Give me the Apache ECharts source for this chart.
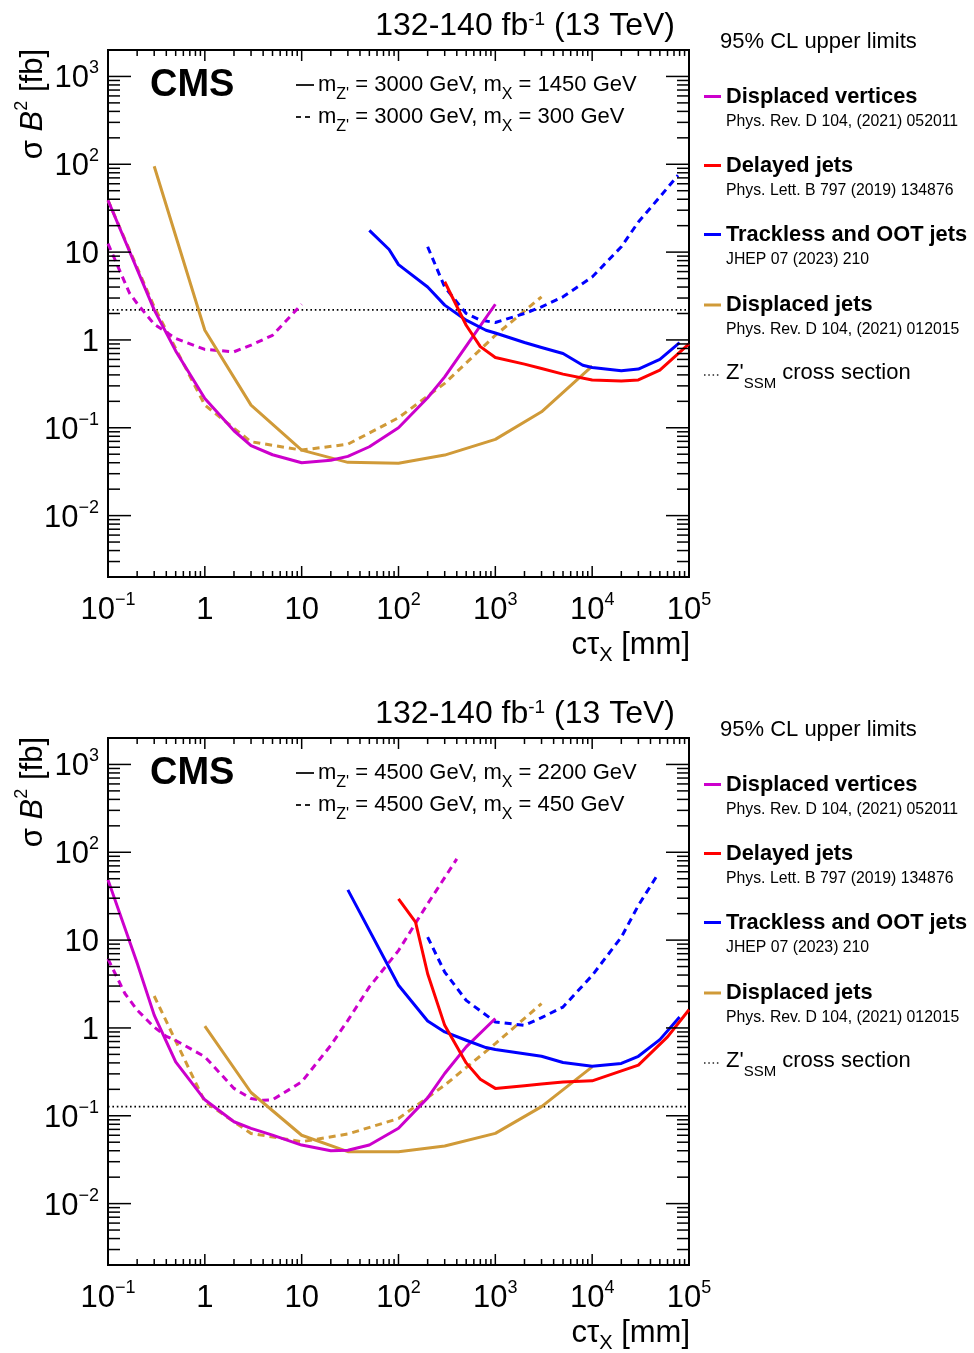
<!DOCTYPE html>
<html><head><meta charset="utf-8">
<script src="https://cdn.jsdelivr.net/npm/echarts@6/dist/echarts.min.js"></script>
<style>html,body{margin:0;padding:0;background:#fff}#c{width:974px;height:1353px}</style>
</head><body><div id="c"></div>
<script>
// ---------- DATA ----------
// Top panel: m_Z' = 3000 GeV ; solid mX = 1450 GeV, dashed mX = 300 GeV
const p1_dvSolidX = [0.1, 0.3, 0.5, 1, 2, 3, 5, 10, 20, 30, 50, 100, 200, 300, 500, 1000];
const p1_dvSolidY = [38.9, 2.2, 0.75, 0.215, 0.0925, 0.0625, 0.0493, 0.0400, 0.0426, 0.0472, 0.0608, 0.100, 0.22, 0.38, 0.85, 2.55];
const p1_dvDashX  = [0.1, 0.167, 0.2, 0.3, 0.5, 1, 2, 3, 5, 10];
const p1_dvDashY  = [12.5, 3.4, 2.6, 1.51, 1.04, 0.78, 0.733, 0.873, 1.13, 2.55];
const p1_deSolidX = [300, 500, 700, 1000, 2000, 3000, 5000, 10000, 20000, 30000, 50000, 100000];
const p1_deSolidY = [4.6, 1.47, 0.84, 0.63, 0.53, 0.473, 0.408, 0.35, 0.34, 0.35, 0.453, 0.90];
const p1_trSolidX = [50, 80, 100, 200, 300, 500, 800, 1000, 2000, 3000, 5000, 8000, 10000, 20000, 30000, 50000, 80000];
const p1_trSolidY = [17.7, 10.7, 7.2, 4.0, 2.49, 1.68, 1.29, 1.2, 0.935, 0.82, 0.70, 0.516, 0.485, 0.446, 0.466, 0.60, 0.93];
const p1_trDashX  = [200, 300, 500, 700, 1000, 2000, 3000, 5000, 10000, 20000, 30000, 50000, 77000];
const p1_trDashY  = [11.5, 4.0, 2.0, 1.68, 1.58, 2.0, 2.38, 3.1, 5.2, 11.5, 22, 42.5, 75];
const p1_djSolidX = [0.3, 1, 3, 10, 30, 100, 300, 1000, 3000, 10000];
const p1_djSolidY = [95, 1.29, 0.181, 0.0557, 0.0404, 0.0395, 0.0489, 0.0738, 0.152, 0.503];
const p1_djDashX  = [0.1, 0.3, 1, 3, 10, 30, 100, 300, 1000, 3000];
const p1_djDashY  = [38.9, 2.38, 0.181, 0.0693, 0.0557, 0.065, 0.13, 0.32, 1.13, 3.1];
const p1_zprime = 2.2;

// Bottom panel: m_Z' = 4500 GeV ; solid mX = 2200 GeV, dashed mX = 450 GeV
const p2_dvSolidX = [0.1, 0.2, 0.3, 0.5, 1, 2, 3, 5, 10, 20, 30, 50, 100, 200, 300, 500, 1000];
const p2_dvSolidY = [48.5, 5.5, 1.4, 0.41, 0.152, 0.0855, 0.0718, 0.0603, 0.0464, 0.040, 0.0405, 0.0464, 0.072, 0.16, 0.303, 0.608, 1.28];
const p2_dvDashX  = [0.1, 0.15, 0.2, 0.3, 0.4, 0.5, 1, 2, 3, 4, 5, 10, 20, 30, 50, 100, 200, 400];
const p2_dvDashY  = [6.1, 2.45, 1.6, 1.02, 0.8, 0.72, 0.47, 0.205, 0.157, 0.15, 0.152, 0.243, 0.635, 1.22, 2.93, 7.6, 25.9, 84];
const p2_deSolidX = [100, 150, 200, 300, 500, 700, 1000, 2000, 3000, 5000, 10000, 30000, 60000, 100000];
const p2_deSolidY = [29.5, 16, 4.14, 1.07, 0.40, 0.26, 0.205, 0.22, 0.23, 0.243, 0.25, 0.377, 0.79, 1.61];
const p2_trSolidX = [30, 100, 200, 300, 500, 800, 1000, 3000, 5000, 10000, 20000, 30000, 50000, 80000];
const p2_trSolidY = [37.3, 3.06, 1.2, 0.90, 0.724, 0.598, 0.567, 0.476, 0.404, 0.366, 0.394, 0.476, 0.736, 1.33];
const p2_trDashX  = [200, 300, 500, 1000, 2000, 3000, 5000, 10000, 20000, 30000, 48000];
const p2_trDashY  = [10.8, 4.33, 2.06, 1.17, 1.07, 1.31, 1.73, 3.96, 10.8, 24.8, 56.8];
const p2_djSolidX = [1, 3, 10, 30, 100, 300, 1000, 3000, 10000];
const p2_djSolidY = [1.05, 0.184, 0.060, 0.039, 0.0389, 0.0452, 0.063, 0.127, 0.36];
const p2_djDashX  = [0.3, 1, 3, 10, 30, 100, 300, 1000, 3000];
const p2_djDashY  = [2.31, 0.144, 0.063, 0.0507, 0.062, 0.093, 0.223, 0.663, 1.89];
const p2_zprime = 0.127;

// Axes / ticks / labels
const xMajorTicks = [0.1, 1, 10, 100, 1000, 10000, 100000];
const xTickLabels = ['10{s|−1}', '1', '10', '10{s|2}', '10{s|3}', '10{s|4}', '10{s|5}'];
const yMajorTicks = [0.01, 0.1, 1, 10, 100, 1000];
const yTickLabels = ['10{s|−2}', '10{s|−1}', '1', '10', '10{s|2}', '10{s|3}'];
const minorMult = [2, 3, 4, 5, 6, 7, 8, 9];
const xRange = [0.1, 100000];
const yRange = [0.002, 2000];

// Texts
const headerText = '132-140 fb{s|-1} (13 TeV)';
const panelMz = ['3000', '4500'];
const panelMxSolid = ['1450', '2200'];
const panelMxDash = ['300', '450'];
const legendTitles = ['Displaced vertices', 'Delayed jets', 'Trackless and OOT jets', 'Displaced jets'];
const legendRefs = ['Phys. Rev. D 104, (2021) 052011', 'Phys. Lett. B 797 (2019) 134876', 'JHEP 07 (2023) 210', 'Phys. Rev. D 104, (2021) 012015'];

// ---------- STYLE ----------
const FONT = '"Liberation Sans", Arial, Helvetica, sans-serif';
const COL = { dv: '#cc00cc', de: '#ff0000', tr: '#0000ff', dj: '#d09a38' };
const legendColors = [COL.dv, COL.de, COL.tr, COL.dj];
const GRID_L = 108, GRID_W = 581, GRID_H = 527;
const PANEL_TOP = [50, 738];
const DY = [0, 688];

function labelFor(v, majors, labels) {
  for (let i = 0; i < majors.length; i++) {
    if (Math.abs(Math.log10(v) - Math.log10(majors[i])) < 1e-6) return labels[i];
  }
  return '';
}

const supRich = { s: { fontSize: 18, lineHeight: 18, padding: [0, 0, 21, 0], verticalAlign: 'bottom', fontFamily: FONT, color: '#000' } };

function pairs(xs, ys) { return xs.map((x, i) => [x, ys[i]]); }
function lineSeries(gi, xs, ys, color, dashed) {
  return {
    type: 'line', xAxisIndex: gi, yAxisIndex: gi, data: pairs(xs, ys),
    showSymbol: false, symbol: 'none', silent: true, animation: false, clip: true, z: 3,
    lineStyle: { color: color, width: 3, type: dashed ? [7, 5] : 'solid', cap: 'butt', join: 'round' }
  };
}
function zLine(gi, z) {
  return {
    type: 'line', xAxisIndex: gi, yAxisIndex: gi, data: [[xRange[0], z], [xRange[1], z]],
    showSymbol: false, symbol: 'none', silent: true, animation: false, z: 2,
    lineStyle: { color: '#000', width: 1.6, type: [1.6, 2.8] }
  };
}
function tickData() {
  const d = [];
  xMajorTicks.forEach(v => d.push([v, 1, 0]));
  yMajorTicks.forEach(v => d.push([1, v, 2]));
  for (let e = -1; e <= 4; e++) minorMult.forEach(m => { const v = m * Math.pow(10, e); if (v > xRange[0] && v < xRange[1]) d.push([v, 1, 1]); });
  for (let e = -3; e <= 3; e++) minorMult.forEach(m => { const v = m * Math.pow(10, e); if (v >= yRange[0] && v <= yRange[1]) d.push([1, v, 3]); });
  return d;
}
function tickSeries(gi) {
  return {
    type: 'custom', xAxisIndex: gi, yAxisIndex: gi, silent: true, animation: false, z: 10, clip: false,
    data: tickData(),
    renderItem: function (params, api) {
      const cs = params.coordSys;
      const k = api.value(2);
      const st = { stroke: '#000', lineWidth: 1.5 };
      if (k < 2) {
        const px = api.coord([api.value(0), 1])[0];
        const L = k === 0 ? 11 : 6;
        const b = cs.y + cs.height, t = cs.y;
        return { type: 'group', children: [
          { type: 'line', shape: { x1: px, y1: b, x2: px, y2: b - L }, style: st },
          { type: 'line', shape: { x1: px, y1: t, x2: px, y2: t + L }, style: st }] };
      } else {
        const py = api.coord([1, api.value(1)])[1];
        const L = k === 2 ? 23 : 12;
        const l = cs.x, r = cs.x + cs.width;
        return { type: 'group', children: [
          { type: 'line', shape: { x1: l, y1: py, x2: l + L, y2: py }, style: st },
          { type: 'line', shape: { x1: r, y1: py, x2: r - L, y2: py }, style: st }] };
      }
    }
  };
}

const grids = [], xAxes = [], yAxes = [], series = [], graphics = [];
const pdata = [
  { dv: [p1_dvSolidX, p1_dvSolidY, p1_dvDashX, p1_dvDashY], de: [p1_deSolidX, p1_deSolidY],
    tr: [p1_trSolidX, p1_trSolidY, p1_trDashX, p1_trDashY], dj: [p1_djSolidX, p1_djSolidY, p1_djDashX, p1_djDashY], z: p1_zprime },
  { dv: [p2_dvSolidX, p2_dvSolidY, p2_dvDashX, p2_dvDashY], de: [p2_deSolidX, p2_deSolidY],
    tr: [p2_trSolidX, p2_trSolidY, p2_trDashX, p2_trDashY], dj: [p2_djSolidX, p2_djSolidY, p2_djDashX, p2_djDashY], z: p2_zprime }
];

function txt(x, y, text, o) {
  o = o || {};
  return {
    type: 'text', x: x, y: y, rotation: o.rot || 0, silent: true, z: 20,
    style: {
      text: text, fill: '#000', fontFamily: FONT, fontSize: o.size || 22, fontWeight: o.bold ? 'bold' : 'normal',
      fontStyle: o.italic ? 'italic' : 'normal',
      align: o.align || 'left', verticalAlign: 'middle', rich: o.rich || {}, lineHeight: o.lh
    }
  };
}
function gline(x1, y1, x2, y2, color, w, dash) {
  return { type: 'line', silent: true, z: 20, shape: { x1, y1, x2, y2 }, style: { stroke: color, lineWidth: w, lineDash: dash || null } };
}

for (let gi = 0; gi < 2; gi++) {
  const dy = DY[gi];
  grids.push({ left: GRID_L, top: PANEL_TOP[gi], width: GRID_W, height: GRID_H, show: true, borderColor: '#000', borderWidth: 2, backgroundColor: 'transparent', containLabel: false, outerBoundsMode: 'none' });
  xAxes.push({
    type: 'log', logBase: 10, gridIndex: gi, min: xRange[0], max: xRange[1],
    axisLine: { show: false }, axisTick: { show: false }, splitLine: { show: false }, minorTick: { show: false },
    axisLabel: { show: true, formatter: v => labelFor(v, xMajorTicks, xTickLabels), fontSize: 31, fontFamily: FONT, color: '#000',
      margin: 14, lineHeight: 39, rich: supRich, showMinLabel: true, showMaxLabel: true, hideOverlap: false }
  });
  yAxes.push({
    type: 'log', logBase: 10, gridIndex: gi, min: yRange[0], max: yRange[1],
    axisLine: { show: false }, axisTick: { show: false }, splitLine: { show: false }, minorTick: { show: false },
    axisLabel: { show: true, formatter: v => labelFor(v, yMajorTicks, yTickLabels), fontSize: 31, fontFamily: FONT, color: '#000',
      margin: 9, lineHeight: 39, padding: [5, 0, 0, 0], rich: supRich, showMinLabel: true, showMaxLabel: true, hideOverlap: false }
  });
  const P = pdata[gi];
  series.push(zLine(gi, P.z));
  series.push(lineSeries(gi, P.dj[2], P.dj[3], COL.dj, true));
  series.push(lineSeries(gi, P.dv[2], P.dv[3], COL.dv, true));
  series.push(lineSeries(gi, P.tr[2], P.tr[3], COL.tr, true));
  series.push(lineSeries(gi, P.dj[0], P.dj[1], COL.dj, false));
  series.push(lineSeries(gi, P.dv[0], P.dv[1], COL.dv, false));
  series.push(lineSeries(gi, P.tr[0], P.tr[1], COL.tr, false));
  series.push(lineSeries(gi, P.de[0], P.de[1], COL.de, false));
  series.push(tickSeries(gi));

  // header
  graphics.push(txt(675, 26 + dy, headerText, { size: 32, align: 'right',
    rich: { s: { fontSize: 19, lineHeight: 19, padding: [0, 0, 13, 0], verticalAlign: 'bottom', fontFamily: FONT } } }));
  // y title (rotated)
  graphics.push(txt(33, 49 + dy, 'σ {i|B}{s|2} [fb]', { size: 31, align: 'right', rot: Math.PI / 2, lh: 39,
    rich: { i: { fontStyle: 'italic', fontSize: 31, fontFamily: FONT, lineHeight: 39 }, s: supRich.s } }));
  // x title
  graphics.push(txt(690, 645 + dy, 'cτ{b|X} [mm]', { size: 31, align: 'right', lh: 40,
    rich: { b: { fontSize: 20, lineHeight: 20, padding: [20, 0, 0, 0], verticalAlign: 'top', fontFamily: FONT } } }));
  // CMS
  graphics.push(txt(150, 86 + dy, 'CMS', { size: 38, bold: true }));
  // inner legend
  const subR = { b: { fontSize: 16, lineHeight: 16, padding: [20, 0, 0, 0], verticalAlign: 'top', fontFamily: FONT } };
  graphics.push(gline(296, 85 + dy, 314, 85 + dy, '#222', 2));
  graphics.push(txt(318, 85 + dy, 'm{b|Z\'} = ' + panelMz[gi] + ' GeV, m{b|X} = ' + panelMxSolid[gi] + ' GeV', { size: 22, lh: 36, rich: subR }));
  graphics.push(gline(296, 117 + dy, 314, 117 + dy, '#222', 2, [5, 4]));
  graphics.push(txt(318, 117 + dy, 'm{b|Z\'} = ' + panelMz[gi] + ' GeV, m{b|X} = ' + panelMxDash[gi] + ' GeV', { size: 22, lh: 36, rich: subR }));
  // right legend
  graphics.push(txt(720, 42 + dy, '95% CL upper limits', { size: 22 }));
  const ly = [96.5, 165.5, 234.5, 305];
  for (let k = 0; k < 4; k++) {
    graphics.push(gline(704, ly[k] + dy, 721, ly[k] + dy, legendColors[k], 3));
    graphics.push(txt(726, ly[k] + dy, legendTitles[k], { size: 21.8, bold: true }));
    graphics.push(txt(726, ly[k] + 25 + dy, legendRefs[k], { size: 15.8 }));
  }
  graphics.push(gline(704, 375 + dy, 721, 375 + dy, '#222', 1.5, [1.5, 2.8]));
  graphics.push(txt(726, 373 + dy, 'Z\'{b|SSM} cross section', { size: 22, lh: 37,
    rich: { b: { fontSize: 15, lineHeight: 15, padding: [22, 0, 0, 0], verticalAlign: 'top', fontFamily: FONT } } }));
}

const chart = echarts.init(document.getElementById('c'), null, { renderer: 'canvas' });
chart.setOption({
  animation: false,
  backgroundColor: '#fff',
  textStyle: { fontFamily: FONT },
  grid: grids, xAxis: xAxes, yAxis: yAxes, series: series, graphic: graphics
});
</script></body></html>
